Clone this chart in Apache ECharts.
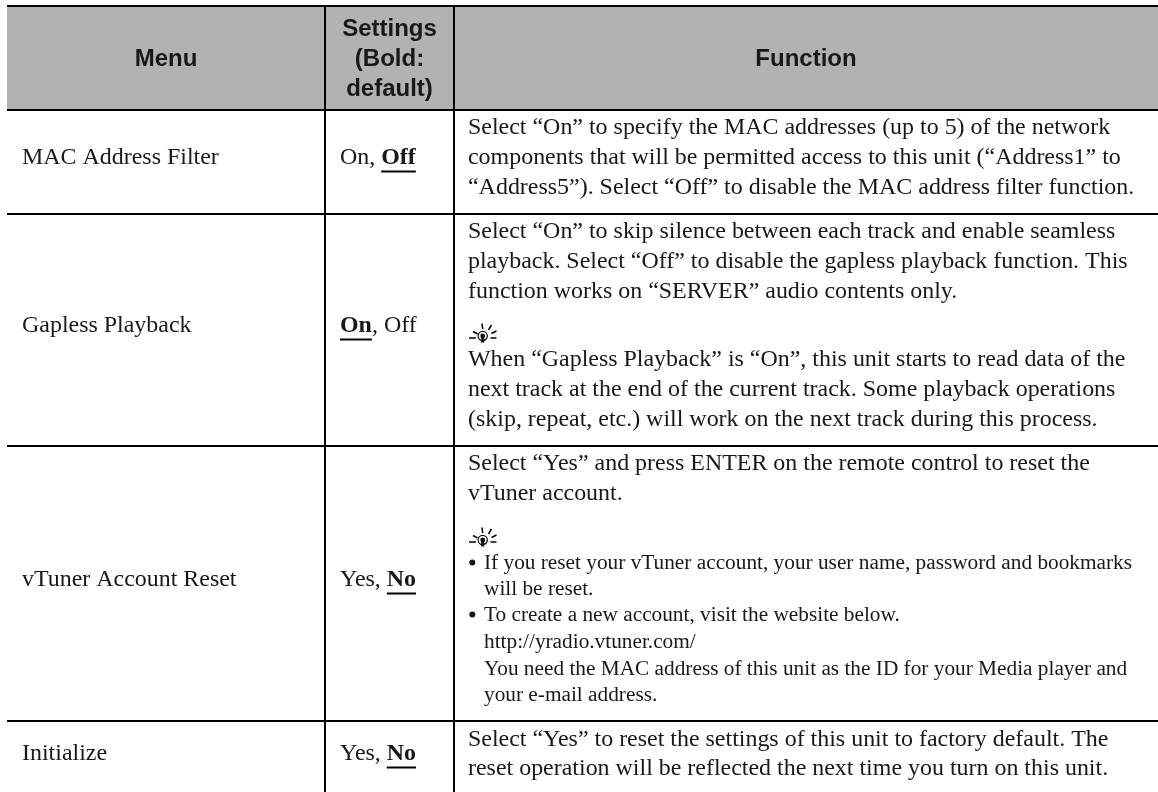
<!DOCTYPE html>
<html>
<head>
<meta charset="utf-8">
<title>Menu table</title>
<script src="https://cdn.jsdelivr.net/npm/echarts@6/dist/echarts.min.js"></script>
<style>
html, body { margin: 0; padding: 0; background: #fff; }
#main { width: 1158px; height: 792px; }
</style>
</head>
<body>
<div id="main"></div>
<script>
var headerMenu = 'Menu';
var headerSettings = ['Settings', '(Bold:', 'default)'];
var headerFunction = 'Function';

var menuItems = ['MAC Address Filter', 'Gapless Playback', 'vTuner Account Reset', 'Initialize'];

// each setting: [text before the default, bold default, text after it]
var settingsParts = [
    ['On, ', 'Off', ''],
    ['', 'On', ', Off'],
    ['Yes, ', 'No', ''],
    ['Yes, ', 'No', '']
];

var row1Text = [
    'Select \u201cOn\u201d to specify the MAC addresses (up to 5) of the network',
    'components that will be permitted access to this unit (\u201cAddress1\u201d to',
    '\u201cAddress5\u201d). Select \u201cOff\u201d to disable the MAC address filter function.'
];
var row2Text = [
    'Select \u201cOn\u201d to skip silence between each track and enable seamless',
    'playback. Select \u201cOff\u201d to disable the gapless playback function. This',
    'function works on \u201cSERVER\u201d audio contents only.'
];
var row2Tip = [
    'When \u201cGapless Playback\u201d is \u201cOn\u201d, this unit starts to read data of the',
    'next track at the end of the current track. Some playback operations',
    '(skip, repeat, etc.) will work on the next track during this process.'
];
var row3Text = [
    'Select \u201cYes\u201d and press ENTER on the remote control to reset the',
    'vTuner account.'
];
var row3Tip = [
    'If you reset your vTuner account, your user name, password and bookmarks',
    'will be reset.',
    'To create a new account, visit the website below.',
    'http://yradio.vtuner.com/',
    'You need the MAC address of this unit as the ID for your Media player and',
    'your e-mail address.'
];
var row3Bullets = [0, 2];
var row4Text = [
    'Select \u201cYes\u201d to reset the settings of this unit to factory default. The',
    'reset operation will be reflected the next time you turn on this unit.'
];

// layout, in pixels
var colEdges = [7, 325, 454, 1158];
var rowEdges = [6, 110, 214, 446, 721];
var pageBottom = 792;
var headerBaselines = [37, 67, 97];
var rowBaselines = [166, 334, 588, 762];
var row1Base = [136, 166, 196];
var row2Base = [240, 270, 300];
var row2TipBase = [368, 398, 428];
var row3Base = [472, 502];
var row3TipBase = [571, 597, 623, 650, 677, 703];
var row4Base = [748, 777];
var tipTops = [323, 527];

var serif = '"Liberation Serif", "Times New Roman", serif';
var sans = '"Liberation Sans", Arial, sans-serif';
var inkColor = '#1a1718';
var bodySize = 23.95;
var smallSize = 21.3;
var headSize = 24;

var measure = document.createElement('canvas').getContext('2d');
function textWidth(s, font) {
    measure.font = font;
    return measure.measureText(s).width;
}

var elements = [];

function addText(s, x, baseline, size, opts) {
    opts = opts || {};
    elements.push({
        type: 'text',
        silent: true,
        z: 10,
        x: x,
        y: baseline - size * 0.3375,
        style: {
            text: s,
            fill: inkColor,
            font: (opts.bold ? 'bold ' : '') + size + 'px ' + (opts.family || serif),
            textAlign: opts.align || 'left',
            textVerticalAlign: 'middle',
            verticalAlign: 'middle'
        }
    });
}

function addLine(x1, y1, x2, y2, w) {
    elements.push({
        type: 'line',
        silent: true,
        z: 5,
        shape: { x1: x1, y1: y1, x2: x2, y2: y2 },
        style: { stroke: '#000', lineWidth: w }
    });
}

function addLines(lines, baselines, x, size) {
    lines.forEach(function (s, i) { addText(s, x, baselines[i], size); });
}

// the small light bulb used as a tip mark
function addTip(x, y) {
    var rays = [
        [1, 15, 8, 15],
        [5, 8.5, 9.5, 11],
        [14, 0.5, 14.7, 6],
        [23.5, 2, 20.5, 7],
        [28.5, 8, 23.5, 10.5],
        [22.5, 15, 28.5, 15]
    ];
    rays.forEach(function (r) {
        addLine(x + r[0], y + r[1], x + r[2], y + r[3], 1.5);
    });
    elements.push({
        type: 'circle', silent: true, z: 6,
        shape: { cx: x + 14.7, cy: y + 13, r: 4.6 },
        style: { fill: '#fff', stroke: '#111', lineWidth: 1.3 }
    });
    elements.push({
        type: 'circle', silent: true, z: 7,
        shape: { cx: x + 14.7, cy: y + 13, r: 2.4 },
        style: { fill: '#111' }
    });
    elements.push({
        type: 'rect', silent: true, z: 7,
        shape: { x: x + 13.2, y: y + 14, width: 3, height: 5.5 },
        style: { fill: '#111' }
    });
}

// header band
elements.push({
    type: 'rect',
    silent: true,
    z: 1,
    shape: { x: colEdges[0], y: rowEdges[0], width: colEdges[3] - colEdges[0], height: rowEdges[1] - rowEdges[0] },
    style: { fill: '#b2b2b2' }
});

// rules
rowEdges.forEach(function (y) { addLine(colEdges[0], y, colEdges[3], y, 2); });
addLine(colEdges[1], rowEdges[0], colEdges[1], pageBottom, 2);
addLine(colEdges[2], rowEdges[0], colEdges[2], pageBottom, 2);

// header text
addText(headerMenu, (colEdges[0] + colEdges[1]) / 2, headerBaselines[1], headSize, { bold: true, family: sans, align: 'center' });
headerSettings.forEach(function (s, i) {
    addText(s, (colEdges[1] + colEdges[2]) / 2, headerBaselines[i], headSize, { bold: true, family: sans, align: 'center' });
});
addText(headerFunction, (colEdges[2] + colEdges[3]) / 2, headerBaselines[1], headSize, { bold: true, family: sans, align: 'center' });

// menu and settings columns
menuItems.forEach(function (s, i) {
    addText(s, 22, rowBaselines[i], bodySize);
});
var settingsX = 340;
settingsParts.forEach(function (parts, i) {
    var regular = bodySize + 'px ' + serif;
    var bold = 'bold ' + regular;
    var x = settingsX;
    var base = rowBaselines[i];
    if (parts[0]) {
        addText(parts[0], x, base, bodySize);
        x += textWidth(parts[0], regular);
    }
    addText(parts[1], x, base, bodySize, { bold: true });
    var w = textWidth(parts[1], bold);
    addLine(x, base + 5.5, x + w, base + 5.5, 2);
    x += w;
    if (parts[2]) {
        addText(parts[2], x, base, bodySize);
    }
});

// function column
var funcX = 468;
addLines(row1Text, row1Base, funcX, bodySize);
addLines(row2Text, row2Base, funcX, bodySize);
addTip(funcX, tipTops[0]);
addLines(row2Tip, row2TipBase, funcX, bodySize);
addLines(row3Text, row3Base, funcX, bodySize);
addTip(funcX, tipTops[1]);
addLines(row3Tip, row3TipBase, funcX + 16, smallSize);
row3Bullets.forEach(function (i) {
    elements.push({
        type: 'circle', silent: true, z: 10,
        shape: { cx: funcX + 4.3, cy: row3TipBase[i] - 8.5, r: 3 },
        style: { fill: inkColor }
    });
});
addLines(row4Text, row4Base, funcX, bodySize);

var myChart = echarts.init(document.getElementById('main'), null, { renderer: 'canvas' });
var option = {
    backgroundColor: '#fff',
    animation: false,
    graphic: { elements: elements }
};
myChart.setOption(option);
</script>
</body>
</html>
